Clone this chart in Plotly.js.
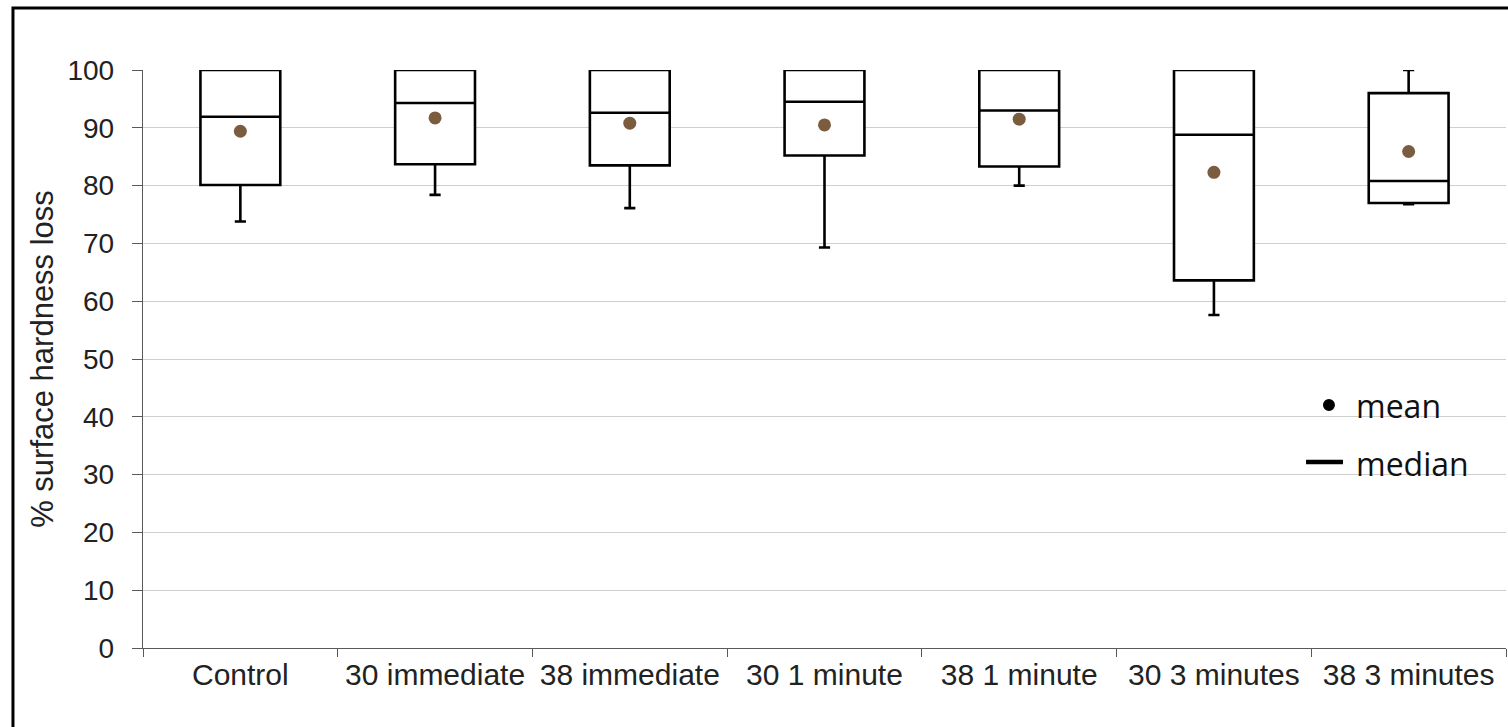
<!DOCTYPE html>
<html>
<head>
<meta charset="utf-8">
<script src="https://cdn.plot.ly/plotly-3.0.1.min.js"></script>
<style>
  html, body { margin: 0; padding: 0; background: #fff; }
  #chart { width: 1508px; height: 727px; }
</style>
</head>
<body>
<div id="chart"></div>
<script>
// Data
const categories = ["Control", "30 immediate", "38 immediate", "30 1 minute", "38 1 minute", "30 3 minutes", "38 3 minutes"];
const lowerWhisker = [73.8, 78.4, 76.1, 69.3, 80.0, 57.6, 76.8];
const q1Values     = [80.1, 83.7, 83.5, 85.2, 83.3, 63.6, 77.0];
const medianValues = [91.9, 94.3, 92.6, 94.5, 93.0, 88.8, 80.8];
const q3Values     = [100, 100, 100, 100, 100, 100, 96.0];
const upperWhisker = [100, 100, 100, 100, 100, 100, 100];
const meanValues   = [89.4, 91.7, 90.8, 90.5, 91.5, 82.3, 85.9];
const yTickValues  = [0, 10, 20, 30, 40, 50, 60, 70, 80, 90, 100];
const legendLabels = ["mean", "median"];

const fontFamily = "Liberation Sans, Arial, sans-serif";

const boxTrace = {
  type: "box",
  x: categories,
  q1: q1Values,
  median: medianValues,
  q3: q3Values,
  lowerfence: lowerWhisker,
  upperfence: upperWhisker,
  width: 0.41,
  whiskerwidth: 0.14,
  fillcolor: "#ffffff",
  line: { color: "#000000", width: 2.6 },
  showlegend: false,
  hoverinfo: "skip"
};

const meanTrace = {
  type: "scatter",
  mode: "markers",
  x: categories,
  y: meanValues,
  marker: { color: "#7b5c3e", size: 13 },
  showlegend: false,
  hoverinfo: "skip"
};

const layout = {
  width: 1508,
  height: 727,
  margin: { l: 143, r: 2, t: 70, b: 79 },
  paper_bgcolor: "#ffffff",
  plot_bgcolor: "#ffffff",
  showlegend: false,
  xaxis: {
    type: "category",
    range: [-0.5, categories.length - 0.5],
    tickson: "boundaries",
    ticks: "outside",
    ticklen: 8,
    tickcolor: "#595959",
    tickwidth: 1,
    showline: true,
    linecolor: "#595959",
    linewidth: 1.3,
    showgrid: false,
    zeroline: false,
    tickfont: { family: fontFamily, size: 30, color: "#222222" }
  },
  yaxis: {
    range: [0, 100],
    tickvals: yTickValues,
    ticks: "outside",
    ticklen: 10,
    tickcolor: "#595959",
    tickwidth: 1,
    ticklabelstandoff: 12,
    showline: true,
    linecolor: "#595959",
    linewidth: 1.3,
    showgrid: true,
    gridcolor: "#cfcfcf",
    gridwidth: 1,
    zeroline: false,
    tickfont: { family: fontFamily, size: 28, color: "#222222" },
    title: {
      text: "% surface hardness loss",
      font: { family: fontFamily, size: 31, color: "#222222" },
      standoff: 4
    }
  },
  shapes: [
    // outer chart frame
    { type: "rect", xref: "paper", yref: "paper", x0: -0.0954, x1: 1.05, y0: -0.3, y1: 1.1073,
      line: { color: "#000000", width: 3 }, fillcolor: "rgba(0,0,0,0)", layer: "above" },
    // legend symbols
    { type: "circle", xref: "paper", yref: "paper", x0: 0.8657, x1: 0.8745, y0: 0.4100, y1: 0.4308,
      line: { color: "#000000", width: 0 }, fillcolor: "#000000" },
    { type: "line", xref: "paper", yref: "paper", x0: 0.8533, x1: 0.8804, y0: 0.3218, y1: 0.3218,
      line: { color: "#000000", width: 4.5 } }
  ],
  annotations: [
    { xref: "paper", yref: "paper", x: 0.8885, y: 0.4204, xanchor: "left", yanchor: "middle",
      text: legendLabels[0], showarrow: false,
      font: { family: "Open Sans, Noto Sans, sans-serif", size: 32, color: "#111111" } },
    { xref: "paper", yref: "paper", x: 0.8885, y: 0.3200, xanchor: "left", yanchor: "middle",
      text: legendLabels[1], showarrow: false,
      font: { family: "Open Sans, Noto Sans, sans-serif", size: 32, color: "#111111" } }
  ]
};

Plotly.newPlot("chart", [boxTrace, meanTrace], layout, { displayModeBar: false, staticPlot: true });
</script>
</body>
</html>
